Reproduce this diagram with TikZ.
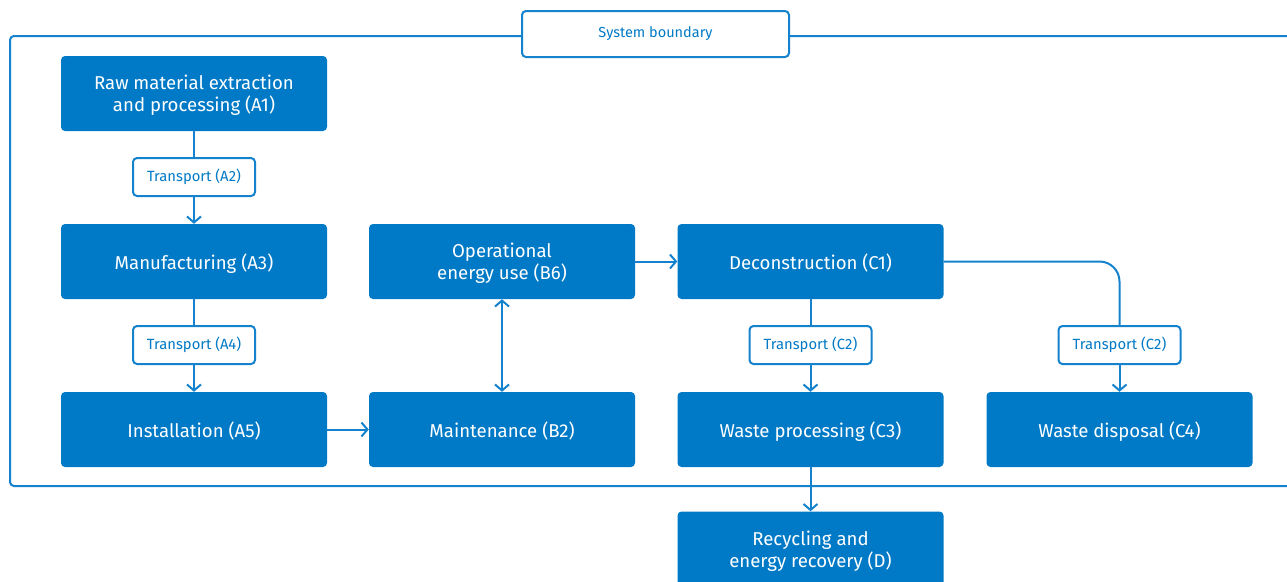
\documentclass[tikz,border=0pt]{standalone}
\usepackage{fontspec}
\setmainfont{Fira Sans}
\usetikzlibrary{arrows.meta}
\definecolor{boxblue}{RGB}{0,122,198}
\definecolor{lineblue}{RGB}{20,130,205}
\tikzset{
  stage/.style={fill=boxblue, rounded corners=4pt, minimum width=266pt, minimum height=75pt, text=white, font=\fontsize{18.6}{22}\selectfont, align=center, inner sep=0pt, text depth=0pt},
  tbox/.style={draw=lineblue, line width=2pt, fill=white, rounded corners=4pt, minimum width=122pt, minimum height=38pt, text=boxblue, font=\fontsize{14.8}{17}\selectfont, inner sep=0pt},
  conn/.style={draw=lineblue, line width=2pt, -{Straight Barb[length=6pt,width=14pt,line width=2pt]}},
  plain/.style={draw=lineblue, line width=2pt},
}
\begin{document}
\begin{tikzpicture}[x=1pt,y=-1pt]
\useasboundingbox (0,0) rectangle (1287,581);
\clip (0,0) rectangle (1287,581);
% system boundary
\draw[plain, rounded corners=4pt] (10,36) rectangle (1300,486);
\node[tbox, minimum width=267pt, minimum height=46pt, font=\fontsize{14.5}{17}\selectfont] (sb) at (655.5,34) {System boundary};
% stages
\node[stage] (a1) at (194,93.5) {Raw material extraction\\and processing (A1)};
\node[tbox] (a2) at (194,177) {Transport (A2)};
\node[stage] (a3) at (194,261.5) {Manufacturing (A3)};
\node[tbox] (a4) at (194,345) {Transport (A4)};
\node[stage] (a5) at (194,429.5) {Installation (A5)};
\node[stage] (b6) at (502,261.5) {Operational\\energy use (B6)};
\node[stage] (b2) at (502,429.5) {Maintenance (B2)};
\node[stage] (c1) at (810.5,261.5) {Deconstruction (C1)};
\node[tbox] (c2a) at (810.5,345) {Transport (C2)};
\node[stage] (c3) at (810.5,429.5) {Waste processing (C3)};
\node[tbox] (c2b) at (1119.5,345) {Transport (C2)};
\node[stage] (c4) at (1119.5,429.5) {Waste disposal (C4)};
\node[stage] (d) at (810.5,549) {Recycling and\\energy recovery (D)};
% connectors
\draw[plain] (a1) -- (a2);
\draw[conn] (a2) -- (a3);
\draw[plain] (a3) -- (a4);
\draw[conn] (a4) -- (a5);
\draw[conn] (a5) -- (b2);
\draw[conn, {Straight Barb[length=6pt,width=14pt,line width=2pt]}-{Straight Barb[length=6pt,width=14pt,line width=2pt]}] (b6) -- (b2);
\draw[conn] (b6.east |- c1.west) -- (c1.west);
\draw[plain] (c1) -- (c2a);
\draw[conn] (c2a) -- (c3);
\draw[plain, rounded corners=20pt] (c1.east) -| (c2b.north);
\draw[conn] (c2b) -- (c4);
\draw[conn] (c3) -- (d);
\end{tikzpicture}
\end{document}
